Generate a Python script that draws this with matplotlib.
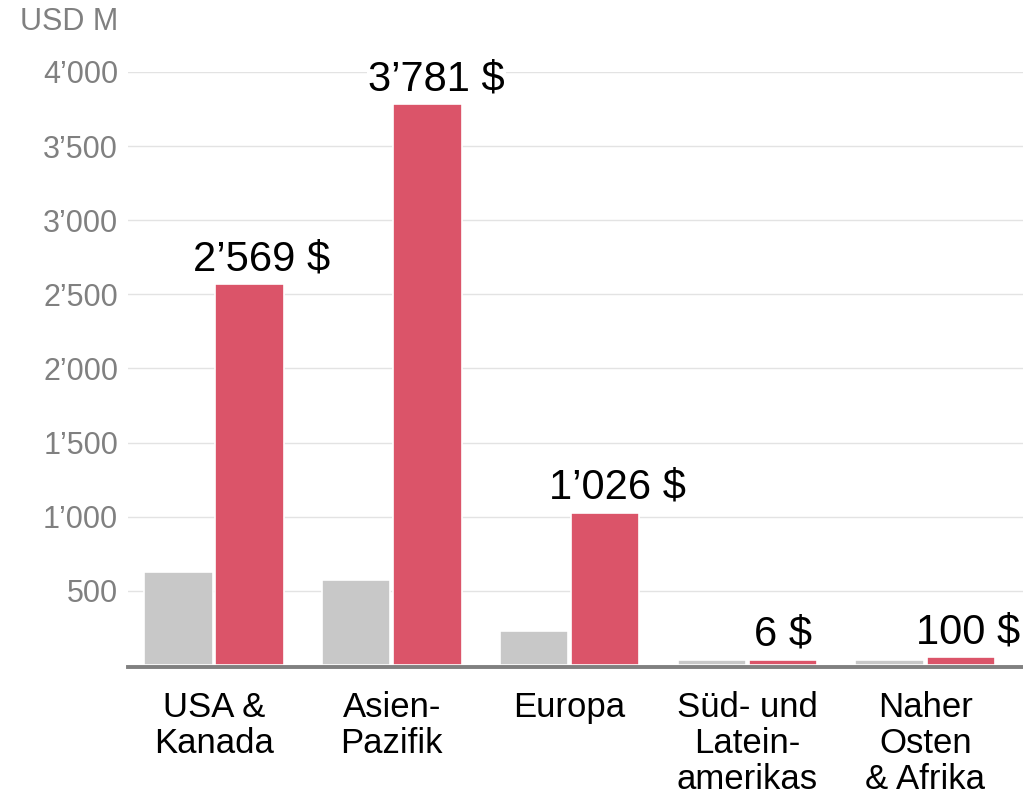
import numpy as np
import matplotlib.pyplot as plt

plt.rcParams['font.family'] = ['Liberation Sans', 'DejaVu Sans']

# data
regions = ["USA &\nKanada", "Asien-\nPazifik", "Europa",
           "Süd- und\nLatein-\namerikas", "Naher\nOsten\n& Afrika"]
grey_values = [630, 573, 232, 34, 34]
red_values = [2569, 3781, 1026, 35, 50]
red_labels = ["2’569 $", "3’781 $", "1’026 $", "6 $", "100 $"]
yticks = [500, 1000, 1500, 2000, 2500, 3000, 3500, 4000]
ytick_labels = ["500", "1’000", "1’500", "2’000", "2’500", "3’000", "3’500", "4’000"]

RED = "#DB5469"
GREY = "#C8C8C8"

fig = plt.figure(figsize=(10.23, 7.96), dpi=100)
ax = fig.add_axes([0.125, 0.1621, 0.875, 0.7475])

x = np.arange(len(regions))
w = 0.385
ax.bar(x - 0.2, grey_values, w, color=GREY, edgecolor="white", linewidth=1.2, zorder=2)
bars = ax.bar(x + 0.2, red_values, w, color=RED, edgecolor="white", linewidth=1.2, zorder=2)

# big labels sit a bit right of the bar centre, small ones centred
shifts = [0.07, 0.05, 0.07, 0.0, 0.04]
for b, lab, dx in zip(bars, red_labels, shifts):
    ax.annotate(lab, (b.get_x() + b.get_width() / 2 + dx, b.get_height()),
                xytext=(0, 10), textcoords="offset points",
                ha="center", va="baseline", fontsize=30, color="black",
                bbox=dict(facecolor="white", edgecolor="none", pad=1),
                zorder=4, annotation_clip=False)

ax.set_xlim(-0.484, 4.55)
ax.set_ylim(-14, 4000)
ax.set_yticks(yticks)
ax.set_yticklabels(ytick_labels)
ax.set_xticks(x)
ax.set_xticklabels(regions, fontsize=25, color="black", linespacing=1.12)
ax.tick_params(axis="y", length=0, pad=7, labelsize=22, labelcolor="#808080")
ax.tick_params(axis="x", length=0, pad=17)
ax.grid(axis="y", color="#E3E3E3", linewidth=1, zorder=0)
ax.set_axisbelow(True)

for s in ["left", "right", "top"]:
    ax.spines[s].set_visible(False)
ax.spines["bottom"].set_color("#808080")
ax.spines["bottom"].set_linewidth(2.8)
ax.spines["bottom"].set_zorder(3)

fig.text(118 / 1023, 1 - 22 / 796, "USD M", ha="right", va="center",
         fontsize=22, color="#808080")

fig.savefig("out.png", dpi=100)
